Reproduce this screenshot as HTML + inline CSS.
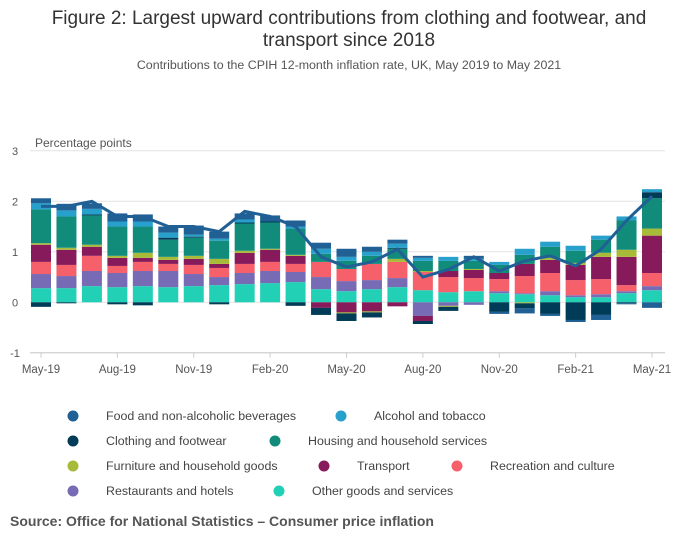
<!DOCTYPE html>
<html><head><meta charset="utf-8"><style>
body{margin:0;background:#fff;font-family:"Liberation Sans",sans-serif;}
svg text{font-family:"Liberation Sans",sans-serif;}
</style></head><body>
<svg width="700" height="549" xmlns="http://www.w3.org/2000/svg" id="chart">
<text x="349" y="24" text-anchor="middle" font-size="19" fill="#333">Figure 2: Largest upward contributions from clothing and footwear, and</text>
<text x="349" y="46" text-anchor="middle" font-size="19" fill="#333">transport since 2018</text>
<text x="349" y="69" text-anchor="middle" font-size="12.4" fill="#555">Contributions to the CPIH 12-month inflation rate, UK, May 2019 to May 2021</text>
<text x="35" y="147" font-size="12" fill="#555">Percentage points</text>
<g id="grid"></g><g id="bars"></g><g id="line"></g><g id="legend"></g>
<text x="10" y="526" font-size="14" font-weight="bold" fill="#555">Source: Office for National Statistics – Consumer price inflation</text>
</svg>
<script>
const months=["May-19","Jun-19","Jul-19","Aug-19","Sep-19","Oct-19","Nov-19","Dec-19","Jan-20","Feb-20","Mar-20","Apr-20","May-20","Jun-20","Jul-20","Aug-20","Sep-20","Oct-20","Nov-20","Dec-20","Jan-21","Feb-21","Mar-21","Apr-21","May-21"];
const xTickLabels=["May-19","Aug-19","Nov-19","Feb-20","May-20","Aug-20","Nov-20","Feb-21","May-21"];
const yTicks=[3,2,1,0,-1];
const seriesNames=["Other goods and services","Restaurants and hotels","Recreation and culture","Transport","Furniture and household goods","Housing and household services","Clothing and footwear","Alcohol and tobacco","Food and non-alcoholic beverages"];
const seriesColors=["#22d0b6","#776bb5","#f6606b","#871a5b","#a8bb38","#118c7b","#003c57","#27a0cc","#206095"];
const otherGoods=[0.28,0.28,0.32,0.3,0.32,0.3,0.32,0.34,0.36,0.38,0.4,0.26,0.22,0.26,0.3,0.24,0.2,0.22,0.18,0.16,0.14,0.1,0.1,0.18,0.24];
const restaurants=[0.28,0.24,0.3,0.28,0.3,0.32,0.24,0.16,0.22,0.24,0.2,0.24,0.2,0.18,0.18,-0.27,-0.07,-0.05,0.04,0.02,0.08,0.04,0.06,0.04,0.08];
const recreation=[0.24,0.22,0.3,0.14,0.18,0.14,0.18,0.18,0.18,0.18,0.16,0.3,0.24,0.32,0.32,0.36,0.3,0.26,0.24,0.34,0.36,0.3,0.3,0.12,0.26];
const transport=[0.34,0.3,0.18,0.16,0.08,0.08,0.12,0.08,0.22,0.24,0.16,-0.11,-0.2,-0.18,-0.08,-0.1,0.12,0.16,0.12,0.24,0.26,0.3,0.44,0.56,0.74];
const furniture=[0.03,0.04,0.04,0.04,0.1,0.06,0.06,0.1,0.04,0.02,0.02,0,-0.02,-0.02,0.06,0.02,-0.02,0.02,0,-0.02,0.04,0.04,0.08,0.14,0.14];
const housing=[0.67,0.62,0.58,0.58,0.52,0.34,0.36,0.36,0.54,0.52,0.52,0.16,0.16,0.16,0.2,0.2,0.2,0.16,0.16,0.18,0.22,0.24,0.26,0.58,0.6];
const clothing=[-0.09,-0.02,0.02,-0.04,-0.06,0.04,0.02,-0.04,0.02,0.02,-0.07,-0.14,-0.15,-0.1,0.02,-0.06,-0.08,0,-0.19,-0.1,-0.23,-0.35,-0.25,-0.02,0.12];
const alcohol=[0.12,0.12,0.11,0.1,0.1,0.1,0.04,0.04,0.06,0,0.04,0.1,0.08,0.08,0.08,0.06,0.08,0.04,0.06,0.12,0.1,0.1,0.08,0.08,0.06];
const food=[0.1,0.13,0.11,0.16,0.14,0.12,0.18,0.14,0.12,0.12,0.12,0.12,0.16,0.1,0.08,0.04,0,0.06,-0.04,-0.1,-0.04,-0.04,-0.1,-0.02,-0.11];
const cpih=[1.9,1.9,2.0,1.7,1.7,1.5,1.5,1.4,1.8,1.7,1.5,0.9,0.7,0.8,1.05,0.5,0.65,0.9,0.62,0.82,0.92,0.72,1.05,1.62,2.1];
const series=[otherGoods,restaurants,recreation,transport,furniture,housing,clothing,alcohol,food];
const NS="http://www.w3.org/2000/svg";
const x0=41,x1=652,yZero=302.3,pxPerUnit=50.5,bw=20;
function xs(i){return x0+(x1-x0)*i/(months.length-1);}
function ys(v){return yZero-v*pxPerUnit;}
function mk(tag,attrs,parent){const e=document.createElementNS(NS,tag);for(const k in attrs)e.setAttribute(k,attrs[k]);parent.appendChild(e);return e;}
const grid=document.getElementById('grid');
yTicks.forEach(t=>{
 const l=mk('line',{x1:30,x2:665,y1:ys(t),y2:ys(t),stroke:'#e3e3e3','stroke-width':1},grid);
 
 
 const tx=mk('text',{x:15,y:ys(t)+4,'text-anchor':'middle','font-size':11,fill:'#555'},grid);
 tx.textContent=t;
 
 
});
const ax=mk('line',{x1:30,x2:665,y1:ys(-1),y2:ys(-1),stroke:'#ccc'},grid);


xTickLabels.forEach(lab=>{
 const i=months.indexOf(lab);
 const tk=mk('line',{x1:xs(i),x2:xs(i),y1:ys(-1),y2:ys(-1)+5,stroke:'#ccc'},grid);
 
 
 const tx=mk('text',{x:xs(i),y:373,'text-anchor':'middle','font-size':11.5,fill:'#555'},grid);
 tx.textContent=lab;
 
 
});
const bars=document.getElementById('bars');
months.forEach((m,i)=>{
 let pos=0,neg=0;
 series.forEach((s,k)=>{
  const v=s[i];if(!v)return;
  let top,bot;
  if(v>0){bot=pos;pos+=v;top=pos;}else{top=neg;neg+=v;bot=neg;}
  const r=mk('rect',{x:xs(i)-bw/2,y:ys(top),width:bw,height:ys(bot)-ys(top),fill:seriesColors[k]},bars);
  
  
 });
});
const lg=document.getElementById('line');
const p=mk('polyline',{points:cpih.map((v,i)=>xs(i)+','+ys(v)).join(' '),fill:'none',stroke:'#206095','stroke-width':3},lg);


const legendItems=[[8,73,416],[7,341,416],[6,73,441],[5,275,441],[4,73,466],[3,324,466],[2,457,466],[1,73,491],[0,279,491]];
const leg=document.getElementById('legend');
legendItems.forEach(([k,x,y])=>{
 const c=mk('circle',{cx:x,cy:y,r:5.5,fill:seriesColors[k]},leg);
 
 
 const t=mk('text',{x:x+33,y:y+4,'font-size':12.4,fill:'#444'},leg);
 t.textContent=seriesNames[k];
 
 
});
</script>
</body></html>
